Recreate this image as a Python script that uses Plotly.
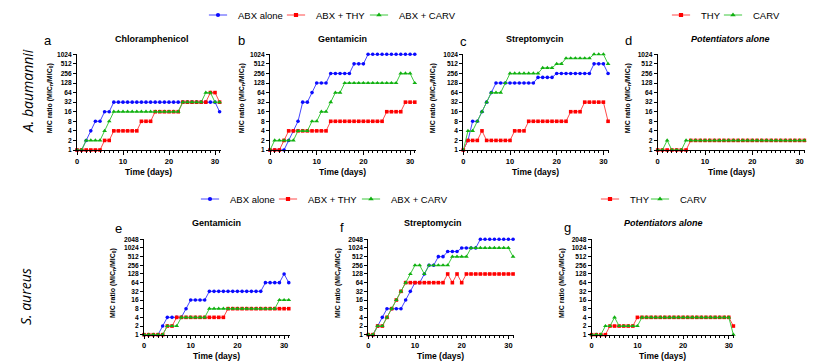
import math
import plotly.graph_objects as go

# ---------------- data (MIC ratio MICn/MIC0, days 0..31) ----------------
days = list(range(32))

# A. baumannii
a_abx  = [1,1,2,4,8,8,16,16,32,32,32,32,32,32,32,32,32,32,32,32,32,32,32,32,32,32,32,32,32,32,32,16]
a_thy  = [1,1,1,1,1,1,2,2,4,4,4,4,4,4,8,8,8,16,16,16,16,16,16,32,32,32,32,32,32,64,64,32]
a_carv = [1,1,2,2,2,2,4,8,16,16,16,16,16,16,16,16,16,16,16,16,16,16,16,32,32,32,32,32,64,64,32,32]

b_abx  = [1,1,1,1,2,4,8,32,32,64,128,128,128,256,256,256,256,256,512,512,512,1024,1024,1024,1024,1024,1024,1024,1024,1024,1024,1024]
b_thy  = [1,1,1,2,4,4,4,4,4,4,4,4,4,8,8,8,8,8,8,8,8,8,8,8,8,16,16,16,16,32,32,32]
b_carv = [1,2,2,2,2,2,4,4,4,8,8,16,16,32,64,64,128,128,128,128,128,128,128,128,128,128,128,128,256,256,256,128]

c_abx  = [1,2,8,8,16,32,64,128,128,128,128,128,128,128,128,128,192,192,192,192,256,256,256,256,256,256,256,256,512,512,512,256]
c_thy  = [1,2,2,2,4,2,2,2,2,2,2,4,4,4,8,8,8,8,8,8,8,8,8,16,16,16,32,32,32,32,32,8]
c_carv = [1,4,4,8,16,32,64,64,64,128,256,256,256,256,256,256,256,384,384,384,512,512,768,768,768,768,768,768,1024,1024,1024,512]

d_thy  = [1,1,1,1,1,1,1,2,2,2,2,2,2,2,2,2,2,2,2,2,2,2,2,2,2,2,2,2,2,2,2,2]
d_carv = [1,1,2,1,1,1,2,2,2,2,2,2,2,2,2,2,2,2,2,2,2,2,2,2,2,2,2,2,2,2,2,2]

# S. aureus
e_abx  = [1,1,1,1,2,4,4,4,4,8,16,16,16,16,32,32,32,32,32,32,32,32,32,32,32,32,64,64,64,64,128,64]
e_thy  = [1,1,1,1,1,2,2,4,4,4,4,4,4,4,4,4,4,4,8,8,8,8,8,8,8,8,8,8,8,8,8,8]
e_carv = [1,1,1,1,1,2,2,2,4,4,4,4,4,4,8,8,8,8,8,8,8,8,8,8,8,8,8,8,8,16,16,16]

f_abx  = [1,1,2,4,8,8,8,8,16,32,64,64,128,256,256,512,512,768,768,768,1024,1024,1024,1024,2048,2048,2048,2048,2048,2048,2048,2048]
f_thy  = [1,1,2,2,4,8,16,32,64,64,64,64,64,64,64,64,64,128,64,128,64,128,128,128,128,128,128,128,128,128,128,128]
f_carv = [1,1,2,2,4,8,16,32,64,128,256,256,128,256,256,256,256,256,512,512,512,512,1024,1024,1024,1024,1024,1024,1024,1024,1024,512]

g_thy  = [1,1,1,1,2,2,2,2,2,2,4,4,4,4,4,4,4,4,4,4,4,4,4,4,4,4,4,4,4,4,4,2]
g_carv = [1,1,1,2,2,4,2,2,2,2,2,4,4,4,4,4,4,4,4,4,4,4,4,4,4,4,4,4,4,4,4,1]

x_ticks = [0, 10, 20, 30]
y_ticks_top = [1, 2, 4, 8, 16, 32, 64, 128, 256, 512, 1024]
y_ticks_bot = [1, 2, 4, 8, 16, 32, 64, 128, 256, 512, 1024, 2048]

# ---------------- styling ----------------
W, H = 827, 363
FONT = "Liberation Sans, Arial, sans-serif"
NARROW = "Liberation Sans Narrow, Arial Narrow, Liberation Sans, sans-serif"

def fx(x):
    return x / W

def fy(y):
    return 1 - y / H

STY = {
    "ABX alone":  dict(line="#4646ff", mk="#0a0aff", sym="circle", size=3.6),
    "ABX + THY":  dict(line="#ff4a4a", mk="#ff0000", sym="square", size=3.6),
    "ABX + CARV": dict(line="#3ec83e", mk="#10b010", sym="triangle-up", size=4.2),
    "THY":        dict(line="#ff4a4a", mk="#ff0000", sym="square", size=3.6),
    "CARV":       dict(line="#3ec83e", mk="#10b010", sym="triangle-up", size=4.2),
}

LEG_TEXT = {
    "a": [235, 313, 396],
    "d": [698, 750],
    "e": [227, 305, 388],
    "g": [627, 677],
}
LEG_Y = {"a": 15, "d": 15, "e": 199, "g": 199}

panels = [
    dict(k="", x0=77.0, ppd=4.60, top=54.3, bot=150.0, yt=y_ticks_top,
         series=[("ABX alone", a_abx), ("ABX + THY", a_thy), ("ABX + CARV", a_carv)],
         title="<b>Chloramphenicol</b>", tx=152, ty=39,
         letter="a", lx=48, ly=40, ytx=50, xtl_y=172),
    dict(k="2", x0=270.0, ppd=4.67, top=54.3, bot=150.0, yt=y_ticks_top,
         series=[("ABX alone", b_abx), ("ABX + THY", b_thy), ("ABX + CARV", b_carv)],
         title="<b>Gentamicin</b>", tx=342, ty=39,
         letter="b", lx=242, ly=40, ytx=242, xtl_y=172),
    dict(k="3", x0=463.3, ppd=4.67, top=54.3, bot=150.0, yt=y_ticks_top,
         series=[("ABX alone", c_abx), ("ABX + THY", c_thy), ("ABX + CARV", c_carv)],
         title="<b>Streptomycin</b>", tx=535, ty=39,
         letter="c", lx=463, ly=41, ytx=433, xtl_y=172),
    dict(k="4", x0=657.7, ppd=4.73, top=54.3, bot=150.0, yt=y_ticks_top,
         series=[("THY", d_thy), ("CARV", d_carv)],
         title="<b><i>Potentiators alone</i></b>", tx=730, ty=39,
         letter="d", lx=628, ly=40, ytx=628, xtl_y=172),
    dict(k="5", x0=144.0, ppd=4.67, top=239.3, bot=334.7, yt=y_ticks_bot,
         series=[("ABX alone", e_abx), ("ABX + THY", e_thy), ("ABX + CARV", e_carv)],
         title="<b>Gentamicin</b>", tx=217, ty=223,
         letter="e", lx=118, ly=228, ytx=113, xtl_y=356),
    dict(k="6", x0=368.3, ppd=4.67, top=239.3, bot=334.7, yt=y_ticks_bot,
         series=[("ABX alone", f_abx), ("ABX + THY", f_thy), ("ABX + CARV", f_carv)],
         title="<b>Streptomycin</b>", tx=433, ty=223,
         letter="f", lx=342, ly=227, ytx=338, xtl_y=356),
    dict(k="7", x0=591.7, ppd=4.57, top=239.3, bot=334.7, yt=y_ticks_bot,
         series=[("THY", g_thy), ("CARV", g_carv)],
         title="<b><i>Potentiators alone</i></b>", tx=663, ty=223,
         letter="g", lx=567, ly=227, ytx=562, xtl_y=356),
]

XMAX = 31.2
TEXT_OFFSET = 37
fig = go.Figure()
annotations = []
layout_axes = {}
legends = {}
leg_counter = [0]

def new_legend(text_x, y):
    leg_counter[0] += 1
    n = leg_counter[0]
    key = "legend" if n == 1 else "legend%d" % n
    legends[key] = dict(x=fx(text_x - TEXT_OFFSET), y=fy(y), xref="paper", yref="paper",
                        xanchor="left", yanchor="middle", orientation="h",
                        bgcolor="rgba(0,0,0,0)", borderwidth=0, itemwidth=30,
                        font=dict(family=FONT, size=9.5, color="black"))
    return key

for p in panels:
    k = p["k"]
    xref = "x" + k
    yref = "y" + k
    x1 = p["x0"] + XMAX * p["ppd"]
    has_leg = p["letter"] in LEG_TEXT
    for i, (name, vals) in enumerate(p["series"]):
        s = STY[name]
        fig.add_trace(go.Scatter(
            x=days, y=vals, name=name, mode="lines+markers",
            xaxis=xref, yaxis=yref,
            line=dict(color=s["line"], width=1),
            marker=dict(symbol=s["sym"], size=s["size"], color=s["mk"], line=dict(width=0)),
            cliponaxis=False, showlegend=False,
        ))
        if has_leg:
            tx = LEG_TEXT[p["letter"]][i]
            ty = LEG_Y[p["letter"]]
            k1 = new_legend(tx, ty)
            fig.add_trace(go.Scatter(
                x=[None], y=[None], name=name, mode="markers", xaxis=xref, yaxis=yref,
                marker=dict(symbol="line-ew", size=13, color=s["line"],
                            line=dict(color=s["line"], width=1)),
                showlegend=True, legend=k1, hoverinfo="skip",
            ))
            k2 = new_legend(tx, ty)
            fig.add_trace(go.Scatter(
                x=[None], y=[None], name=" ", mode="markers", xaxis=xref, yaxis=yref,
                marker=dict(symbol=s["sym"], size=s["size"] + 0.6, color=s["mk"], line=dict(width=0)),
                showlegend=True, legend=k2, hoverinfo="skip",
            ))
    yt = p["yt"]
    layout_axes["xaxis" + k] = dict(
        domain=[fx(p["x0"]), fx(x1)], anchor=yref, range=[0, XMAX],
        showline=True, linecolor="black", linewidth=1, showgrid=False, zeroline=False,
        tickmode="array", tickvals=x_ticks, ticktext=[str(t) for t in x_ticks],
        ticks="outside", ticklen=3.5, tickwidth=1, tickcolor="black",
        tickfont=dict(family=FONT, size=7.5, color="black", weight="bold"),
        minor=dict(tickmode="linear", tick0=0, dtick=1, ticks="outside", ticklen=2,
                   tickwidth=0.8, tickcolor="black", showgrid=False),
        fixedrange=True, automargin=False,
    )
    layout_axes["yaxis" + k] = dict(
        domain=[fy(p["bot"]), fy(p["top"])], anchor=xref, type="log",
        range=[0, math.log10(yt[-1])],
        showline=True, linecolor="black", linewidth=1, showgrid=False, zeroline=False,
        tickmode="array", tickvals=yt, ticktext=[str(t) for t in yt],
        ticks="outside", ticklen=3, tickwidth=1, tickcolor="black",
        tickfont=dict(family=NARROW, size=6.6, color="black", weight="bold"),
        fixedrange=True, automargin=False,
    )
    annotations.append(dict(text=p["title"], x=fx(p["tx"]), y=fy(p["ty"]), xref="paper", yref="paper",
                            showarrow=False, xanchor="center", yanchor="middle",
                            font=dict(family=FONT, size=9, color="black")))
    annotations.append(dict(text=p["letter"], x=fx(p["lx"]), y=fy(p["ly"]), xref="paper", yref="paper",
                            showarrow=False, xanchor="center", yanchor="middle",
                            font=dict(family=FONT, size=13, color="black")))
    annotations.append(dict(text="<b>MIC ratio (MIC<sub>n</sub>/MIC<sub>0</sub>)</b>",
                            x=fx(p["ytx"]), y=fy((p["top"] + p["bot"]) / 2 - 4), xref="paper", yref="paper",
                            showarrow=False, xanchor="center", yanchor="middle", textangle=-90,
                            font=dict(family=FONT, size=7, color="black")))
    annotations.append(dict(text="<b>Time (days)</b>",
                            x=fx(p["x0"] + 15.5 * p["ppd"]), y=fy(p["xtl_y"]), xref="paper", yref="paper",
                            showarrow=False, xanchor="center", yanchor="middle",
                            font=dict(family=FONT, size=8.5, color="black")))

annotations.append(dict(text="<i>A. baumannii</i>", x=fx(28), y=fy(91), xref="paper", yref="paper",
                        showarrow=False, xanchor="center", yanchor="middle", textangle=-90,
                        font=dict(family="Open Sans, Liberation Sans, sans-serif", size=14, color="black")))
annotations.append(dict(text="<i>S. aureus</i>", x=fx(25), y=fy(297), xref="paper", yref="paper",
                        showarrow=False, xanchor="center", yanchor="middle", textangle=-90,
                        font=dict(family="Open Sans, Liberation Sans, sans-serif", size=14, color="black")))

fig.update_layout(
    width=W, height=H, autosize=False,
    margin=dict(l=0, r=0, t=0, b=0, autoexpand=False),
    paper_bgcolor="white", plot_bgcolor="white",
    showlegend=True,
    annotations=annotations,
    **legends,
    **layout_axes,
)

fig.write_html("out.html", config={"displayModeBar": False},
               post_script="document.body.style.margin='0';document.body.style.overflow='hidden';")
